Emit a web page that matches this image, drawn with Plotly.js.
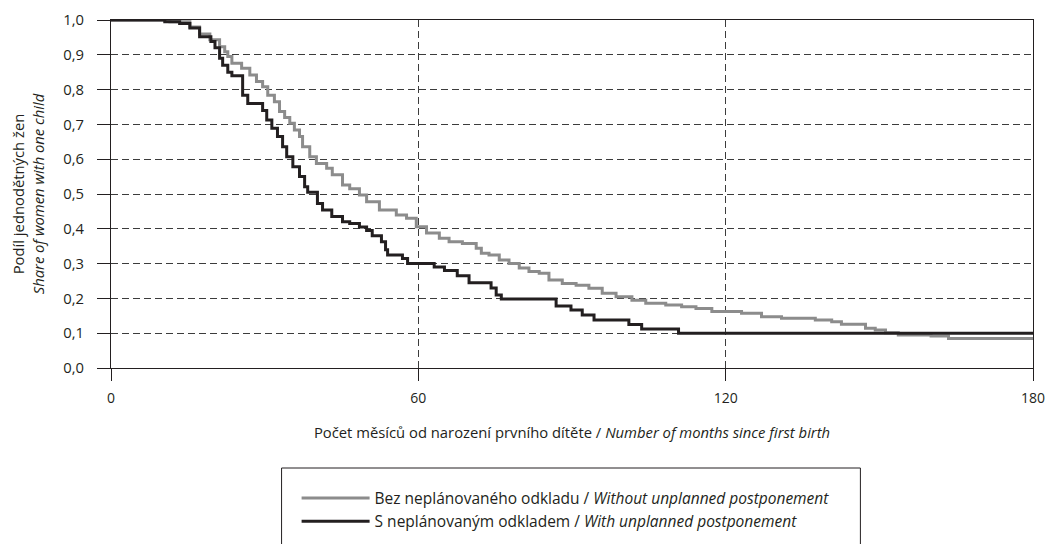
<!DOCTYPE html>
<html>
<head>
<meta charset="utf-8">
<script src="https://cdn.plot.ly/plotly-3.0.1.min.js"></script>
<style>html,body{margin:0;padding:0;background:#fff;}#chart{width:1046px;height:544px;}</style>
</head>
<body>
<div id="chart"></div>
<script>
// Months since first birth and share of women with one child (step curves)
var monthsWithout = [0, 11.5, 15.4, 17.3, 19.3, 21.2, 22.2, 22.8, 23.6, 25.5, 27.1, 28.4, 29.6, 30.6, 31.9, 32.9, 33.9, 34.9, 35.8, 36.8, 37.4, 38.8, 40.1, 42.1, 43.2, 45.2, 46.6, 48.5, 49.9, 52.4, 55.7, 57.7, 59.6, 61.6, 64.1, 66.0, 68.6, 71.3, 72.3, 73.8, 75.8, 77.7, 79.7, 81.6, 83.6, 85.5, 88.1, 90.8, 93.3, 95.9, 98.6, 101.7, 104.4, 108.3, 111.4, 114.2, 117.3, 123.1, 127.0, 130.9, 137.5, 140.7, 142.6, 147.3, 149.2, 151.2, 153.7, 160.1, 163.5, 180];
var shareWithout = [1.0, 0.995, 0.98, 0.96, 0.943, 0.923, 0.909, 0.895, 0.876, 0.861, 0.842, 0.823, 0.808, 0.784, 0.765, 0.737, 0.72, 0.703, 0.684, 0.665, 0.636, 0.607, 0.588, 0.574, 0.555, 0.526, 0.515, 0.497, 0.478, 0.454, 0.44, 0.43, 0.406, 0.388, 0.373, 0.363, 0.358, 0.344, 0.33, 0.325, 0.31, 0.30, 0.287, 0.277, 0.272, 0.253, 0.243, 0.238, 0.229, 0.215, 0.205, 0.195, 0.186, 0.181, 0.176, 0.171, 0.162, 0.157, 0.147, 0.143, 0.138, 0.133, 0.126, 0.114, 0.109, 0.101, 0.095, 0.092, 0.085, 0.085];

var monthsWith = [0, 10.5, 13.4, 15.4, 17.3, 19.5, 20.3, 21.2, 21.8, 22.8, 23.6, 25.7, 26.7, 29.6, 30.4, 31.4, 32.5, 33.5, 34.3, 35.5, 36.8, 37.8, 38.4, 40.3, 41.3, 43.1, 45.2, 46.6, 48.5, 49.9, 51.0, 52.8, 53.6, 54.0, 56.9, 57.9, 63.1, 65.1, 67.6, 69.9, 74.2, 75.2, 76.2, 86.9, 89.8, 92.0, 94.3, 101.1, 103.6, 110.8, 180];
var shareWith = [1.0, 0.995, 0.99, 0.977, 0.952, 0.938, 0.92, 0.89, 0.87, 0.85, 0.84, 0.784, 0.76, 0.74, 0.713, 0.689, 0.665, 0.636, 0.607, 0.578, 0.55, 0.521, 0.505, 0.473, 0.454, 0.435, 0.42, 0.415, 0.405, 0.395, 0.38, 0.363, 0.34, 0.325, 0.315, 0.30, 0.29, 0.28, 0.265, 0.245, 0.23, 0.21, 0.198, 0.178, 0.167, 0.152, 0.138, 0.125, 0.112, 0.10, 0.10];

var seriesNames = [
  'Bez neplánovaného odkladu / <i>Without unplanned postponement</i>',
  'S neplánovaným odkladem / <i>With unplanned postponement</i>'
];
var xTicks = [0, 60, 120, 180];
var yTicks = [0, 0.1, 0.2, 0.3, 0.4, 0.5, 0.6, 0.7, 0.8, 0.9, 1.0];

var FONT = 'Open Sans, Noto Sans, sans-serif';
var FS = 14.8;

var traces = [
  {x: monthsWithout, y: shareWithout, name: seriesNames[0], type: 'scatter', mode: 'lines',
   line: {shape: 'hv', color: '#8c8c8c', width: 3}, cliponaxis: true},
  {x: monthsWith, y: shareWith, name: seriesNames[1], type: 'scatter', mode: 'lines',
   line: {shape: 'hv', color: '#231f20', width: 3}, cliponaxis: true}
];

var layout = {
  width: 1046, height: 544,
  margin: {l: 111, r: 13, t: 20, b: 176, autoexpand: false},
  paper_bgcolor: '#fff', plot_bgcolor: '#fff',
  separators: ', ',
  font: {family: FONT, size: FS, color: '#231f20'},
  showlegend: true,
  xaxis: {
    range: [0, 180], tickvals: xTicks, ticktext: xTicks.map(String),
    showline: true, linecolor: '#231f20', linewidth: 1, mirror: true,
    ticks: 'outside', ticklen: 12, tickcolor: '#231f20', tickwidth: 1,
    ticklabelstandoff: 5, ticklabeloverflow: 'allow',
    showgrid: true, gridcolor: '#3c3c3c', gridwidth: 1, griddash: '7px,4px',
    zeroline: false, automargin: false,
    tickfont: {family: FONT, size: 14, color: '#231f20'},
    title: {text: 'Počet měsíců od narození prvního dítěte / <i>Number of months since first birth</i>',
            font: {family: FONT, size: FS, color: '#231f20'}, standoff: 21}
  },
  yaxis: {
    range: [0, 1.0], tickvals: yTicks, tickformat: '.1f',
    showline: true, linecolor: '#231f20', linewidth: 1, mirror: true,
    ticks: 'outside', ticklen: 13, tickcolor: '#231f20', tickwidth: 1,
    ticklabelstandoff: 10,
    showgrid: true, gridcolor: '#3c3c3c', gridwidth: 1, griddash: '7px,4px',
    zeroline: false, automargin: false,
    tickfont: {family: FONT, size: FS, color: '#231f20'},
    title: {text: 'Podíl jednodětných žen<br><i>Share of women with one child</i>',
            font: {family: FONT, size: FS, color: '#231f20'}, standoff: 15}
  },
  legend: {
    x: 0.2013, xanchor: 'left', y: -0.326, yanchor: 'top',
    bgcolor: 'rgba(0,0,0,0)', borderwidth: 0,
    font: {family: FONT, size: 15.5, color: '#231f20'},
    itemwidth: 68, tracegroupgap: 0
  },
  shapes: [{
    type: 'rect', xref: 'paper', yref: 'paper',
    x0: 0.185, x1: 0.8128, y0: -0.2874, y1: -0.56,
    line: {color: '#231f20', width: 1}, fillcolor: 'rgba(0,0,0,0)'
  }]
};

Plotly.newPlot('chart', traces, layout, {staticPlot: true, displayModeBar: false});
</script>
</body>
</html>
